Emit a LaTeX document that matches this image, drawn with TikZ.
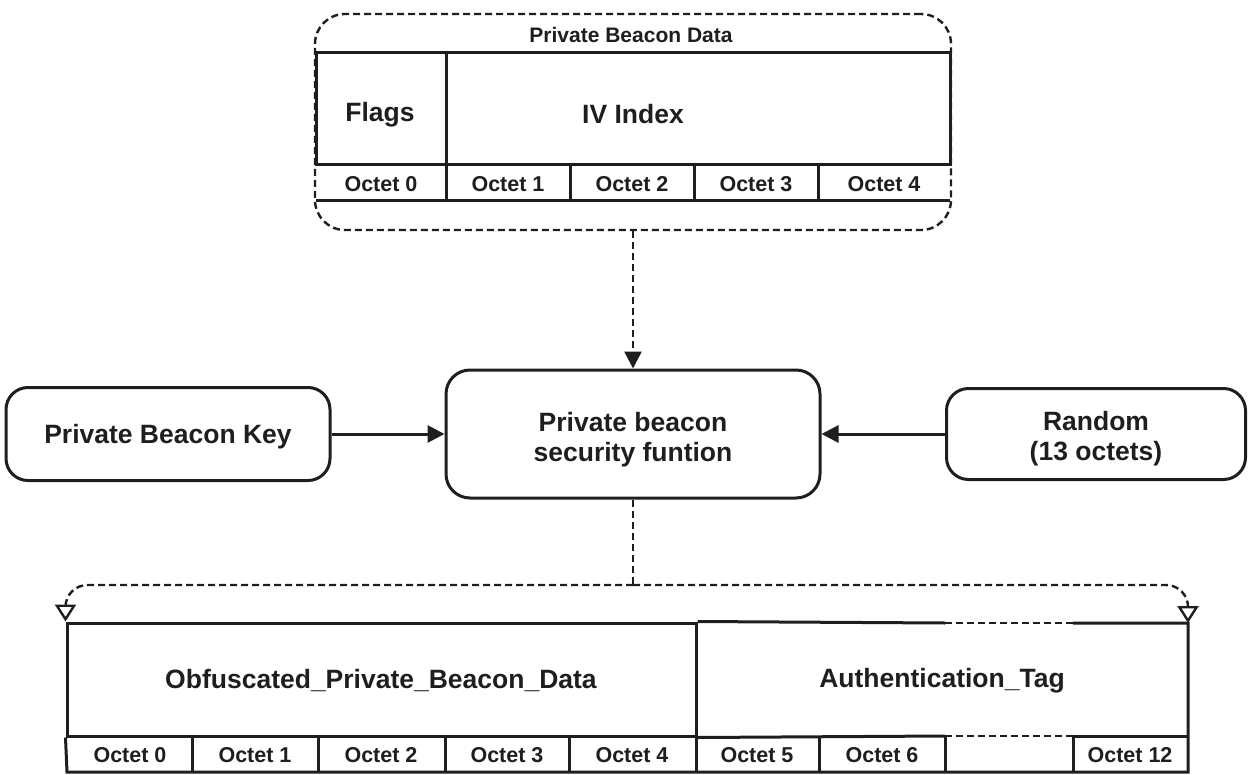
\documentclass[tikz,border=0pt]{standalone}
\usepackage{fontspec}
\setmainfont{Liberation Sans}
\usetikzlibrary{arrows.meta,positioning}

\definecolor{ink}{HTML}{1E1E1E}

\tikzset{
  big/.style={font=\bfseries\fontsize{26.5}{30}\selectfont, text=ink, align=center},
  small/.style={font=\bfseries\fontsize{21.5}{25}\selectfont, text=ink},
  rbox/.style={draw=ink, line width=3pt, rounded corners=24pt, inner sep=0pt},
  cell/.style={draw=ink, line width=3pt, inner sep=0pt},
  solidline/.style={draw=ink, line width=3pt},
  dsh/.style={draw=ink, line width=2.4pt, dash pattern=on 7pt off 4pt},
  fillarrow/.style={-{Triangle[length=17pt,width=17pt]}},
  openarrow/.style={-{Triangle[open,length=17pt,width=21pt]}}
}

\begin{document}
\begin{tikzpicture}[x=1pt, y=-1pt]
\useasboundingbox (0,0) rectangle (1249,775);

% Private Beacon Data group (dashed frame)
\node[dsh, rounded corners=30pt, minimum width=636pt, minimum height=216pt, inner sep=0pt] (pbd) at (633,122) {};
\node[small, font=\bfseries\fontsize{21}{25}\selectfont] (pbdtitle) at (631,35) {Private Beacon Data};
\node[cell, minimum width=130pt, minimum height=112pt] (flags) at (381,109) {};
\node[cell, minimum width=504pt, minimum height=112pt] (ivindex) at (698,109) {};
\node[big] (flagstext) at (380,115) {Flags};
\node[big] (ivtext) at (633,114) {IV Index};

% top octet row
\draw[solidline] (316,201) -- (950,201);
\foreach \x in {446,570,694,818}
  \draw[solidline] (\x,165) -- (\x,201);
\foreach \x/\n [count=\i] in {381/0,508/1,632/2,756/3,884/4}
  \node[small] (to\i) at (\x,184) {Octet \n};

% function and its inputs
\node[rbox, minimum width=374pt, minimum height=128pt] (fn) at (633,434) {};
\node[rbox, rounded corners=22pt, minimum width=324pt, minimum height=93pt] (key) at (168,434) {};
\node[rbox, rounded corners=22pt, minimum width=299pt, minimum height=91pt] (rnd) at (1096,434) {};
\node[big] (fntext) at ([yshift=-6pt]fn.center) {Private beacon\\security funtion};
\node[big] (keytext) at ([yshift=-3pt]key.center) {Private Beacon Key};
\node[big] (rndtext) at ([yshift=-5pt]rnd.center) {Random\\(13 octets)};

\draw[solidline, fillarrow] (key) -- (fn);
\draw[solidline, fillarrow] (rnd) -- (fn);
\draw[dsh, fillarrow] (pbd.south) -- (fn.north);

% output frame
\node[cell, minimum width=629pt, minimum height=113pt] (obf) at (381.5,679.5) {};
\node[big] (obftext) at (381,681) {Obfuscated\_Private\_Beacon\_Data};
\node[big] (auth) at (942,681) {Authentication\_Tag};
\coordinate (authne) at (1188,623);
\draw[solidline] (obf.north east) -- (945,623);
\draw[dsh] (945,623) -- (1073,623);
\draw[solidline] (1073,623) -- (authne) -- (1188,772) -- (67,772) -- (obf.south west);
\draw[solidline] (obf.south east) -- (945,736);
\draw[dsh] (945,736) -- (1073,736);
\draw[solidline] (1073,736) -- (1188,736);
\foreach \x in {192,318,445,569,696,819,945,1073}
  \draw[solidline] (\x,736) -- (\x,772);
\foreach \x/\n [count=\i] in {130/0,255/1,381/2,507/3,632/4,757/5,882/6,1130/12}
  \node[small] (bo\i) at (\x,755) {Octet \n};

% output split (dashed)
\draw[dsh] (fn.south) -- (633,585) coordinate (fork);
\draw[dsh, openarrow, rounded corners=22pt] (fork) -| (obf.north west);
\draw[dsh, openarrow, rounded corners=22pt] (fork) -| (authne);

\end{tikzpicture}
\end{document}
